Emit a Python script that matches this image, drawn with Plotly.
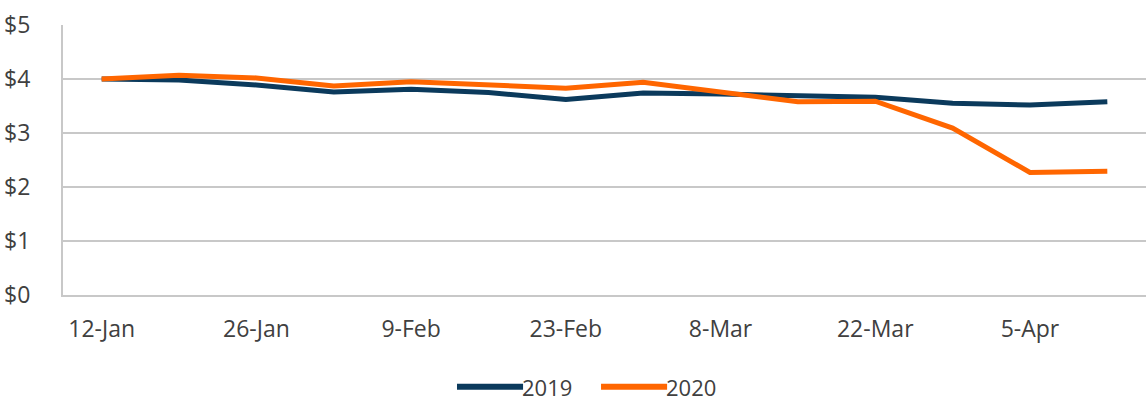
import plotly.graph_objects as go

# Weekly average price, mid-January to mid-April
weeks = ["12-Jan", "19-Jan", "26-Jan", "2-Feb", "9-Feb", "16-Feb", "23-Feb",
         "1-Mar", "8-Mar", "15-Mar", "22-Mar", "29-Mar", "5-Apr", "12-Apr"]
price_2019 = [4.00, 3.98, 3.89, 3.76, 3.81, 3.75, 3.62, 3.74, 3.72, 3.70, 3.66, 3.55, 3.52, 3.58]
price_2020 = [4.00, 4.07, 4.02, 3.87, 3.95, 3.90, 3.83, 3.94, 3.77, 3.58, 3.59, 3.09, 2.27, 2.29]

series_names = ["2019", "2020"]
series_colors = ["#0B3A5C", "#FF6600"]

tick_labels = ["12-Jan", "26-Jan", "9-Feb", "23-Feb", "8-Mar", "22-Mar", "5-Apr"]
y_ticks = [0, 1, 2, 3, 4, 5]
y_tick_text = ["$0", "$1", "$2", "$3", "$4", "$5"]

FONT = "Open Sans"
TEXT_COLOR = "#404040"
GRID = "#C8C8C8"
FONT_SIZE = 23

fig = go.Figure()
for name, vals, color in zip(series_names, [price_2019, price_2020], series_colors):
    fig.add_trace(go.Scatter(
        x=weeks, y=vals, name=name, mode="lines",
        line=dict(color=color, width=5),
        showlegend=False,
    ))

# Legend drawn as line swatches plus labels below the plot
legend_x = [0.3638, 0.4968]
legend_y = -0.34
swatch_len = 0.061
for lx, name, color in zip(legend_x, series_names, series_colors):
    fig.add_shape(type="line", xref="paper", yref="paper",
                  x0=lx, x1=lx + swatch_len, y0=legend_y, y1=legend_y,
                  line=dict(color=color, width=6))
    fig.add_annotation(xref="paper", yref="paper", x=lx + swatch_len - 0.002, y=legend_y,
                       text=name, showarrow=False, xanchor="left", yanchor="middle",
                       borderpad=0,
                       font=dict(family=FONT, size=22, color=TEXT_COLOR))

fig.update_layout(
    width=1146, height=402,
    margin=dict(l=63, r=0, t=25, b=107),
    paper_bgcolor="white", plot_bgcolor="white",
    font=dict(family=FONT, size=FONT_SIZE, color=TEXT_COLOR),
)
fig.update_xaxes(
    type="category", range=[-0.5, len(weeks) - 0.5],
    tickmode="array", tickvals=tick_labels, ticktext=tick_labels,
    showgrid=False, showline=True, linecolor=GRID, linewidth=2,
    ticks="", ticklabelstandoff=12, zeroline=False,
)
fig.update_yaxes(
    range=[0, 5], tickmode="array", tickvals=y_ticks, ticktext=y_tick_text,
    showgrid=True, gridcolor=GRID, gridwidth=2,
    showline=True, linecolor=GRID, linewidth=2,
    ticks="", ticklabelstandoff=26, zeroline=False,
)

fig.write_html("out.html")
